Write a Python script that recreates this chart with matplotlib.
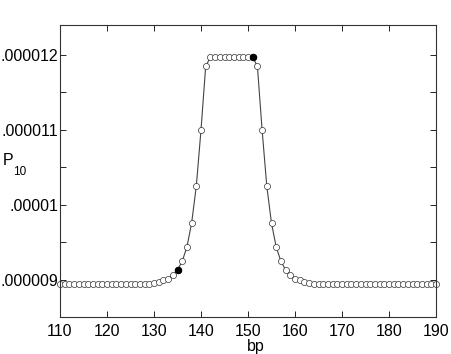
import matplotlib
matplotlib.use("Agg")
import matplotlib.pyplot as plt
from matplotlib.ticker import FixedLocator, FuncFormatter, MultipleLocator

plt.rcParams['font.family'] = ['Liberation Sans', 'DejaVu Sans']

# positions in bp, values of P10 (in units of 1e-6)
bp = list(range(110, 191))
rise = [8.963, 8.977, 8.996, 9.017, 9.062, 9.133, 9.249, 9.44, 9.756,
        10.25, 11.0, 11.85]
plateau = [11.97] * 10
fall = rise[::-1]
p10_e6 = [8.95] * 20 + rise + plateau + fall + [8.95] * 27
p10 = [v * 1e-6 for v in p10_e6]

highlight_bp = [135, 151]
highlight_p10 = [p10[bp.index(b)] for b in highlight_bp]

y_major = [9e-6, 1e-5, 1.1e-5, 1.2e-5]
y_labels = ['.000009', '.00001', '.000011', '.000012']

W, H = 452, 354
fig = plt.figure(figsize=(W / 100, H / 100), dpi=100)
ax = fig.add_axes([60 / W, 1 - 316.7 / H, 376 / W, 291.7 / H])

ax.plot(bp, p10, '-', color='#444444', lw=0.8, zorder=1)
ax.plot(bp, p10, 'o', ms=4.4, mfc='white', mec='#333333', mew=0.5,
        clip_on=False, zorder=2)
ax.plot(highlight_bp, highlight_p10, 'o', ms=4.4, mfc='black', mec='black',
        clip_on=False, zorder=3)

ax.set_xlim(110, 190)
ax.set_ylim(8.51e-6, 1.24e-5)
ax.xaxis.set_major_locator(MultipleLocator(10))
ax.yaxis.set_major_locator(FixedLocator(y_major))
ax.yaxis.set_major_formatter(FuncFormatter(lambda v, p: y_labels[p] if p < len(y_labels) else ''))
ax.yaxis.set_minor_locator(FixedLocator([9.5e-6, 1.05e-5, 1.15e-5]))

ax.tick_params(which='both', direction='in', top=True, right=True,
               labelsize=11.5, colors='black')
ax.tick_params(axis='x', pad=5)
ax.tick_params(axis='y', pad=1)
ax.tick_params(which='major', length=4, width=0.6)
ax.tick_params(which='minor', length=4, width=0.6)
for s in ax.spines.values():
    s.set_linewidth(0.8)
    s.set_color('#333333')

ax.set_xlabel('bp', fontsize=11.5, labelpad=0)
ax.xaxis.set_label_coords(0.52, -0.075)

# y label: P with a lowered subscript 10
fig.text(3 / W, 1 - 165 / H, 'P', fontsize=11.5, va='baseline', ha='left')
fig.text(13 / W, 1 - 175 / H, '10', fontsize=8.5, va='baseline', ha='left')

fig.savefig('out.png', dpi=100)
